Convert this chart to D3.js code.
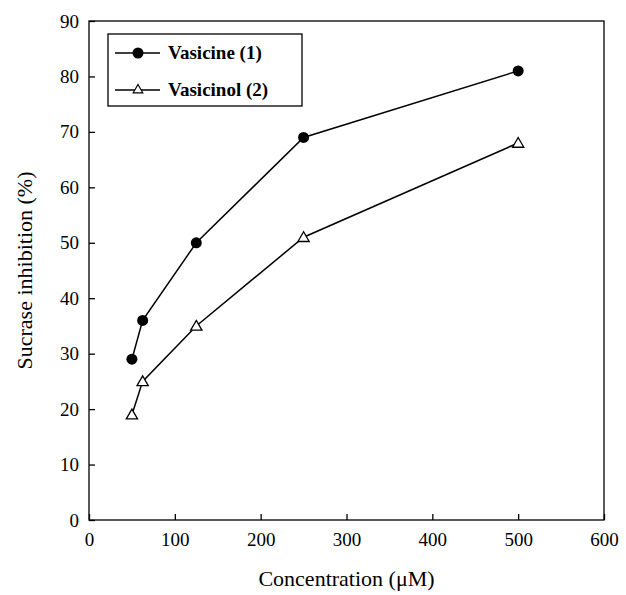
<!DOCTYPE html>
<html>
<head>
<meta charset="utf-8">
<script src="https://cdn.jsdelivr.net/npm/d3@7"></script>
</head>
<body style="margin:0;background:#fff">
<div id="chart"></div>
<script>
// data
var concentrations = [50, 62.5, 125, 250, 500];
var vasicine = [29, 36, 50, 69, 81];
var vasicinol = [19, 25, 35, 51, 68];
var xTicks = [0, 100, 200, 300, 400, 500, 600];
var yTicks = [0, 10, 20, 30, 40, 50, 60, 70, 80, 90];

var FONT = "Liberation Serif";
var width = 626, height = 595;
var margin = {top: 21, right: 22, bottom: 75, left: 89};

var svg = d3.select("#chart").append("svg")
  .attr("width", width)
  .attr("height", height)
  .attr("font-family", FONT)
  .style("font-family", "'Liberation Serif'");

var x = d3.scaleLinear().domain([0, 600]).range([margin.left, width - margin.right]);
var y = d3.scaleLinear().domain([0, 90]).range([height - margin.bottom, margin.top]);

// frame
svg.append("rect")
  .attr("x", x(0)).attr("y", y(90))
  .attr("width", x(600) - x(0)).attr("height", y(0) - y(90))
  .attr("fill", "none").attr("stroke", "#000").attr("stroke-width", 1.3);

// x axis, ticks pointing inward
var xAxis = svg.append("g")
  .attr("transform", "translate(0," + y(0) + ")")
  .call(d3.axisBottom(x).tickValues(xTicks).tickSizeInner(-6).tickSizeOuter(0).tickPadding(13));
xAxis.attr("font-family", FONT).attr("font-size", 19);
xAxis.select(".domain").remove();
xAxis.selectAll("line").attr("stroke-width", 1.3);
xAxis.selectAll("text").attr("font-family", FONT);

var yAxis = svg.append("g")
  .attr("transform", "translate(" + x(0) + ",0)")
  .call(d3.axisLeft(y).tickValues(yTicks).tickSizeInner(-6).tickSizeOuter(0).tickPadding(10));
yAxis.attr("font-family", FONT).attr("font-size", 19);
yAxis.select(".domain").remove();
yAxis.selectAll("line").attr("stroke-width", 1.3);
yAxis.selectAll("text").attr("font-family", FONT);

// axis titles
svg.append("text")
  .attr("x", (x(0) + x(600)) / 2)
  .attr("y", 586)
  .attr("text-anchor", "middle")
  .attr("font-size", 22)
  .attr("font-family", FONT)
  .text("Concentration (\u03bcM)");

svg.append("text")
  .attr("transform", "translate(32," + (y(45)) + ")rotate(-90)")
  .attr("text-anchor", "middle")
  .attr("font-size", 22)
  .attr("font-family", FONT)
  .text("Sucrase inhibition (%)");

var line = d3.line()
  .x(function(d) { return x(d[0]); })
  .y(function(d) { return y(d[1]); });

var s1 = concentrations.map(function(c, i) { return [c, vasicine[i]]; });
var s2 = concentrations.map(function(c, i) { return [c, vasicinol[i]]; });

svg.append("path").datum(s1).attr("d", line)
  .attr("fill", "none").attr("stroke", "#000").attr("stroke-width", 1.5);
svg.append("path").datum(s2).attr("d", line)
  .attr("fill", "none").attr("stroke", "#000").attr("stroke-width", 1.5);

var tri = d3.symbol().type(d3.symbolTriangle).size(55);

svg.selectAll(".dot1").data(s1).enter().append("circle")
  .attr("cx", function(d) { return x(d[0]); })
  .attr("cy", function(d) { return y(d[1]); })
  .attr("r", 5.5)
  .attr("fill", "#000");

svg.selectAll(".dot2").data(s2).enter().append("path")
  .attr("d", tri)
  .attr("transform", function(d) { return "translate(" + x(d[0]) + "," + (y(d[1]) + 1) + ")"; })
  .attr("fill", "#fff").attr("stroke", "#000").attr("stroke-width", 1.3);

// legend
var lg = svg.append("g").attr("transform", "translate(108,34)");
lg.append("rect").attr("width", 194).attr("height", 72)
  .attr("fill", "#fff").attr("stroke", "#000").attr("stroke-width", 1.3);

var rows = [
  {name: "Vasicine (1)", sym: "circle", dy: 19},
  {name: "Vasicinol (2)", sym: "tri", dy: 56}
];
rows.forEach(function(r) {
  lg.append("line").attr("x1", 7).attr("x2", 52).attr("y1", r.dy).attr("y2", r.dy)
    .attr("stroke", "#000").attr("stroke-width", 1.5);
  if (r.sym === "circle") {
    lg.append("circle").attr("cx", 30).attr("cy", r.dy).attr("r", 5.5).attr("fill", "#000");
  } else {
    lg.append("path").attr("d", d3.symbol().type(d3.symbolTriangle).size(40))
      .attr("transform", "translate(30," + r.dy + ")")
      .attr("fill", "#fff").attr("stroke", "#000").attr("stroke-width", 1.2);
  }
  lg.append("text").attr("x", 60).attr("y", r.dy + 6)
    .attr("font-size", 19).attr("font-weight", "bold")
    .attr("font-family", FONT)
    .text(r.name);
});
</script>
</body>
</html>
